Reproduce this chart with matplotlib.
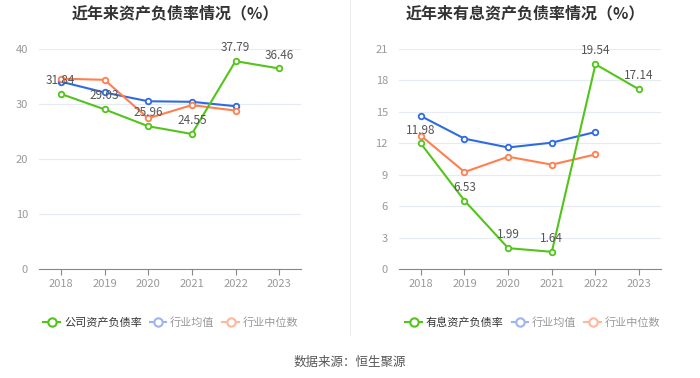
import matplotlib
matplotlib.use("Agg")
import matplotlib.pyplot as plt
from matplotlib.lines import Line2D

plt.rcParams['font.family'] = ['Noto Sans CJK SC', 'DejaVu Sans']

years = ["2018", "2019", "2020", "2021", "2022", "2023"]

# Left chart: 资产负债率
company_debt = [31.84, 29.03, 25.96, 24.55, 37.79, 36.46]
industry_avg_debt = [34.06, 32.1, 30.5, 30.4, 29.6]
industry_med_debt = [34.6, 34.4, 27.4, 29.8, 28.8]

# Right chart: 有息资产负债率
company_int = [11.98, 6.53, 1.99, 1.64, 19.54, 17.14]
industry_avg_int = [14.6, 12.44, 11.6, 12.06, 13.08]
industry_med_int = [12.73, 9.26, 10.72, 9.96, 10.94]

left_ticks = [0, 10, 20, 30, 40]
right_ticks = [0, 3, 6, 9, 12, 15, 18, 21]

GREEN = "#52c41a"
BLUE = "#2f6be0"
ORANGE = "#ff7f50"

fig = plt.figure(figsize=(7, 3.78), dpi=100)

def draw(ax, comp, avg, med, ticks):
    x = list(range(len(years)))
    ax.plot(x[:len(avg)], avg, color=BLUE, lw=1.5, marker='o', ms=4,
            mfc='white', mec=BLUE, mew=1.3, zorder=3)
    ax.plot(x[:len(med)], med, color=ORANGE, lw=1.5, marker='o', ms=4,
            mfc='white', mec=ORANGE, mew=1.3, zorder=3)
    ax.plot(x, comp, color=GREEN, lw=1.5, marker='o', ms=4,
            mfc='white', mec=GREEN, mew=1.3, zorder=4)
    for xi, v in zip(x, comp):
        ax.annotate(f"{v:.2f}", (xi, v), xytext=(0, 5), textcoords='offset points',
                    ha='center', va='bottom', fontsize=8.5, color='#555555', zorder=5)
    ax.set_xlim(-0.5, len(years) - 0.5)
    ax.set_ylim(ticks[0], ticks[-1])
    ax.set_yticks(ticks)
    ax.set_xticks(x)
    ax.set_xticklabels(years)
    ax.grid(axis='y', color='#e6eaf2', lw=0.8)
    ax.set_axisbelow(True)
    for s in ['top', 'right', 'left']:
        ax.spines[s].set_visible(False)
    ax.spines['bottom'].set_color('#888888')
    ax.tick_params(axis='y', length=0, labelsize=8, labelcolor='#999999', pad=8)
    ax.tick_params(axis='x', length=4, color='#888888', labelsize=8, labelcolor='#999999')

ax1 = fig.add_axes([39/700, 1 - 269/378, 262/700, 220/378])
ax2 = fig.add_axes([399/700, 1 - 269/378, 262/700, 220/378])

draw(ax1, company_debt, industry_avg_debt, industry_med_debt, left_ticks)
draw(ax2, company_int, industry_avg_int, industry_med_int, right_ticks)

fig.text(175/700, 1 - 13/378, "近年来资产负债率情况（%）", ha='center', va='center',
         fontsize=11.5, fontweight='bold', color='#333333')
fig.text(525/700, 1 - 13/378, "近年来有息资产负债率情况（%）", ha='center', va='center',
         fontsize=11.5, fontweight='bold', color='#333333')

# divider
fig.add_artist(Line2D([350/700, 350/700], [1 - 0/378, 1 - 335/378], color='#eeeeee', lw=0.8))

def legend(cx, label):
    handles = [
        Line2D([0], [0], color=GREEN, lw=1.5, marker='o', ms=6, mfc='white', mec=GREEN, mew=1.5),
        Line2D([0], [0], color='#9db5ef', lw=1.5, marker='o', ms=6, mfc='white', mec='#9db5ef', mew=1.5),
        Line2D([0], [0], color='#ffb79e', lw=1.5, marker='o', ms=6, mfc='white', mec='#ffb79e', mew=1.5),
    ]
    labels = [label, "行业均值", "行业中位数"]
    leg = fig.legend(handles, labels, loc='center', bbox_to_anchor=(cx, 1 - 323/378),
                     ncol=3, frameon=False, fontsize=8, handlelength=1.5,
                     columnspacing=0.7, handletextpad=0.35)
    cols = ['#333333', '#999999', '#999999']
    for t, c in zip(leg.get_texts(), cols):
        t.set_color(c)

legend(171/700, "公司资产负债率")
legend(533/700, "有息资产负债率")

fig.text(350/700, 1 - 362/378, "数据来源：恒生聚源", ha='center', va='center',
         fontsize=9, color='#555555')

fig.savefig("out.png", dpi=100)
